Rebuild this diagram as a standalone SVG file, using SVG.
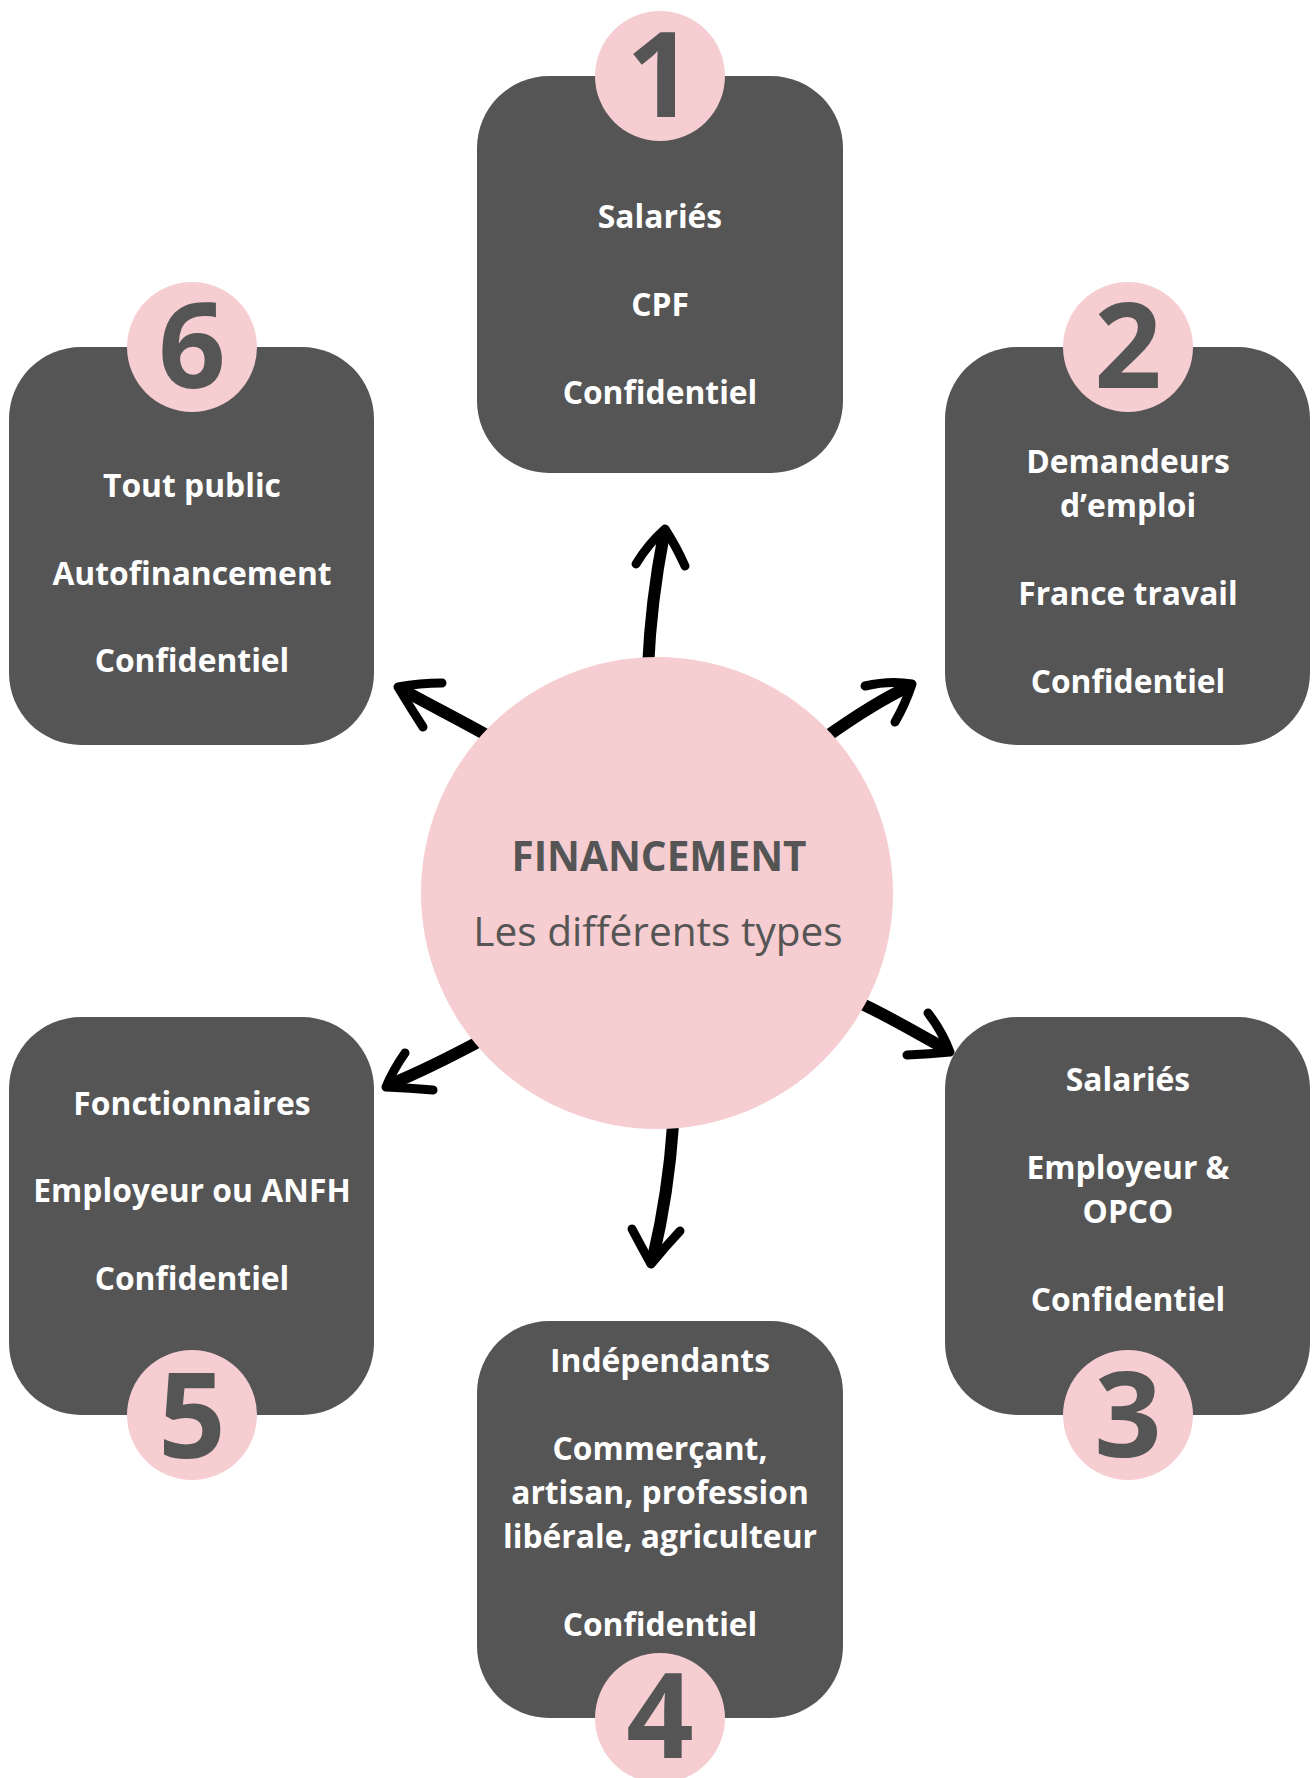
<svg xmlns="http://www.w3.org/2000/svg" width="1316" height="1778" viewBox="0 0 1316 1778">
  <style>
    .box { fill: #555555; }
    .badge { fill: #f6cdd0; }
    .num { font-family: "Open Sans", "Liberation Sans", sans-serif; font-weight: 700; font-size: 118px; fill: #555555; text-anchor: middle; }
    .txt { font-family: "Open Sans", "Liberation Sans", sans-serif; font-weight: 700; font-size: 31.8px; fill: #ffffff; text-anchor: middle; }
    .title { font-family: "Open Sans", "Liberation Sans", sans-serif; font-weight: 700; font-size: 40.5px; fill: #555555; text-anchor: middle; }
    .sub { font-family: "Open Sans", "Liberation Sans", sans-serif; font-weight: 400; font-size: 40.6px; fill: #555555; text-anchor: middle; }
    .shaft { fill: none; stroke: #000000; stroke-width: 12; stroke-linecap: round; stroke-linejoin: round; }
    .head { fill: none; stroke: #000000; stroke-width: 9; stroke-linecap: round; stroke-linejoin: round; }
  </style>
  <rect width="1316" height="1778" fill="#ffffff"/>

  <g id="connectors">
    <path class="shaft" d="M 648 668 C 650 620 655 580 664 534"/>
    <path class="head" d="M 636 564 Q 648 544 665 529 Q 676 546 685 566"/>

    <path class="shaft" d="M 826 737 C 850 720 880 700 908 687"/>
    <path class="head" d="M 865 686 Q 890 680 912 684 Q 905 705 895 722"/>

    <path class="shaft" d="M 862 1004 C 890 1017 920 1035 946 1049"/>
    <path class="head" d="M 928 1013 Q 942 1031 950 1052 Q 930 1054 907 1055"/>

    <path class="shaft" d="M 673 1125 C 670 1170 662 1220 653 1258"/>
    <path class="head" d="M 632 1229 Q 642 1248 651 1264 Q 666 1246 680 1231"/>

    <path class="shaft" d="M 480 1041 C 450 1057 420 1072 391 1084"/>
    <path class="head" d="M 405 1053 Q 393 1070 386 1087 Q 410 1088 433 1090"/>

    <path class="shaft" d="M 490 737 C 460 720 430 705 403 690"/>
    <path class="head" d="M 442 683 Q 420 683 398 687 Q 410 707 423 727"/>
  </g>

  <g id="center">
    <circle class="badge" cx="657" cy="893" r="236"/>
    <text class="title" x="659" y="871">FINANCEMENT</text>
    <text class="sub" x="658" y="946">Les différents types</text>
  </g>

  <g id="node1">
    <rect class="box" x="477" y="76" width="366" height="397" rx="72" ry="72"/>
    <circle class="badge" cx="660" cy="76" r="65"/>
    <text class="num" x="660" y="117">1</text>
    <text class="txt" x="660" y="228">Salariés</text>
    <text class="txt" x="660" y="316">CPF</text>
    <text class="txt" x="660" y="404">Confidentiel</text>
  </g>

  <g id="node2">
    <rect class="box" x="945" y="347" width="365" height="398" rx="72" ry="72"/>
    <circle class="badge" cx="1128" cy="347" r="65"/>
    <text class="num" x="1128" y="388">2</text>
    <text class="txt" x="1128" y="473">Demandeurs</text>
    <text class="txt" x="1128" y="517">d’emploi</text>
    <text class="txt" x="1128" y="605">France travail</text>
    <text class="txt" x="1128" y="693">Confidentiel</text>
  </g>

  <g id="node3">
    <rect class="box" x="945" y="1017" width="365" height="398" rx="72" ry="72"/>
    <circle class="badge" cx="1128" cy="1415" r="65"/>
    <text class="num" x="1128" y="1457">3</text>
    <text class="txt" x="1128" y="1091">Salariés</text>
    <text class="txt" x="1128" y="1179">Employeur &amp;</text>
    <text class="txt" x="1128" y="1223">OPCO</text>
    <text class="txt" x="1128" y="1311">Confidentiel</text>
  </g>

  <g id="node4">
    <rect class="box" x="477" y="1321" width="366" height="397" rx="72" ry="72"/>
    <circle class="badge" cx="660" cy="1718" r="65"/>
    <text class="num" x="660" y="1758">4</text>
    <text class="txt" x="660" y="1372">Indépendants</text>
    <text class="txt" x="660" y="1460">Commerçant,</text>
    <text class="txt" x="660" y="1504">artisan, profession</text>
    <text class="txt" x="660" y="1548">libérale, agriculteur</text>
    <text class="txt" x="660" y="1636">Confidentiel</text>
  </g>

  <g id="node5">
    <rect class="box" x="9" y="1017" width="365" height="398" rx="72" ry="72"/>
    <circle class="badge" cx="192" cy="1415" r="65"/>
    <text class="num" x="192" y="1458">5</text>
    <text class="txt" x="192" y="1115">Fonctionnaires</text>
    <text class="txt" x="192" y="1202">Employeur ou ANFH</text>
    <text class="txt" x="192" y="1290">Confidentiel</text>
  </g>

  <g id="node6">
    <rect class="box" x="9" y="347" width="365" height="398" rx="72" ry="72"/>
    <circle class="badge" cx="192" cy="347" r="65"/>
    <text class="num" x="192" y="388">6</text>
    <text class="txt" x="192" y="497">Tout public</text>
    <text class="txt" x="192" y="585">Autofinancement</text>
    <text class="txt" x="192" y="672">Confidentiel</text>
  </g>
</svg>
